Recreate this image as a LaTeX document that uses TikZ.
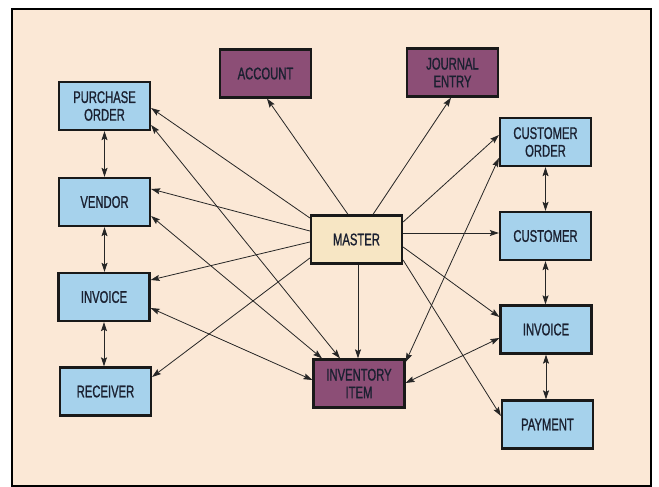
\documentclass[tikz,border=0pt]{standalone}
\usepackage{fontspec}
\setmainfont{Liberation Sans}[FakeStretch=0.67,FakeBold=1]
\usetikzlibrary{calc,arrows.meta}
\definecolor{bgpeach}{RGB}{251,232,214}
\definecolor{boxblue}{RGB}{166,210,236}
\definecolor{boxpurple}{RGB}{140,78,118}
\definecolor{boxcream}{RGB}{247,230,196}
\definecolor{textdark}{RGB}{26,32,48}
\begin{document}
\begin{tikzpicture}[x=1pt,y=-1pt,
  box/.style={draw=black!90, line width=2.2pt, minimum width=91pt, minimum height=48pt,
    inner sep=0pt, align=center, text=textdark,
    font=\fontsize{16.8}{17.7}\selectfont},
  bluebox/.style={box, fill=boxblue},
  purplebox/.style={box, fill=boxpurple},
  creambox/.style={box, fill=boxcream},
  conn/.style={line width=0.8pt, draw=black!85, -{Stealth[length=9pt,width=6pt,inset=1.5pt]}},
  bconn/.style={line width=0.8pt, draw=black!85, {Stealth[length=9pt,width=6pt,inset=1.5pt]}-{Stealth[length=9pt,width=6pt,inset=1.5pt]}}
]
\useasboundingbox (0,0) rectangle (659,487);
\fill[white] (0,0) rectangle (659,487);
\draw[line width=2pt, fill=bgpeach] (12,9) rectangle (651,486);

\node[bluebox] (PO) at (104.5,106) {PURCHASE\\ORDER};
\node[bluebox] (VEN) at (104.5,202) {VENDOR};
\node[bluebox] (INVL) at (104,297) {INVOICE};
\node[bluebox] (REC) at (105.5,391.5) {RECEIVER};
\node[purplebox] (ACC) at (265.5,73.5) {ACCOUNT};
\node[purplebox] (JE) at (452.5,72.5) {JOURNAL\\ENTRY};
\node[bluebox] (CO) at (545.5,142) {CUSTOMER\\ORDER};
\node[bluebox] (CU) at (545.5,236) {CUSTOMER};
\node[bluebox] (INVR) at (546,329.5) {INVOICE};
\node[bluebox] (PAY) at (547.5,424.5) {PAYMENT};
\node[creambox] (M) at (356.5,239.5) {MASTER};
\node[purplebox] (INV) at (359,383.5) {INVENTORY\\ITEM};

% from master
\draw[conn] ($(M.west)+(0,-21.5)$) -- ($(PO.east)+(0,2)$);
\draw[conn] ($(M.west)+(0,-8.5)$) -- ($(VEN.east)+(0,-13)$);
\draw[conn] ($(M.west)+(0,2.5)$) -- ($(INVL.east)+(0,-17)$);
\draw[conn] ($(M.west)+(0,18.5)$) -- ($(REC.east)+(0,-14.5)$);
\draw[conn] ($(M.north)+(-8.5,0)$) -- ($(ACC.south)+(1.5,0)$);
\draw[conn] ($(M.north)+(16.5,0)$) -- ($(JE.south)+(-1.5,0)$);
\draw[conn] ($(M.east)+(0,-17.5)$) -- ($(CO.west)+(0,-7)$);
\draw[conn] ($(M.east)+(0,-6.5)$) -- ($(CU.west)+(0,-3)$);
\draw[conn] ($(M.east)+(0,7.5)$) -- ($(INVR.west)+(0,-12.5)$);
\draw[conn] ($(M.east)+(0,20.5)$) -- ($(PAY.west)+(0,-8.5)$);
\draw[conn] ($(M.south)+(1.5,0)$) -- ($(INV.north)+(-1,0)$);

% inventory item links
\draw[bconn] ($(PO.east)+(0,19)$) -- ($(INV.north)+(-19,0)$);
\draw[bconn] ($(VEN.east)+(0,14)$) -- ($(INV.north)+(-37,0)$);
\draw[bconn] ($(INVL.east)+(0,11)$) -- ($(INV.west)+(0,-3.5)$);
\draw[bconn] ($(CO.west)+(0,16)$) -- ($(INV.east)+(0,-21.5)$);
\draw[bconn] ($(INVR.west)+(0,8.5)$) -- ($(INV.east)+(0,-0.5)$);

% vertical chains
\draw[bconn] (PO.south) -- (VEN.north);
\draw[bconn] (VEN.south) -- (VEN.south |- INVL.north);
\draw[bconn] (INVL.south) -- (INVL.south |- REC.north);
\draw[bconn] (CO.south) -- (CU.north);
\draw[bconn] (CU.south) -- (CU.south |- INVR.north);
\draw[bconn] (INVR.south) -- (INVR.south |- PAY.north);
\end{tikzpicture}
\end{document}
